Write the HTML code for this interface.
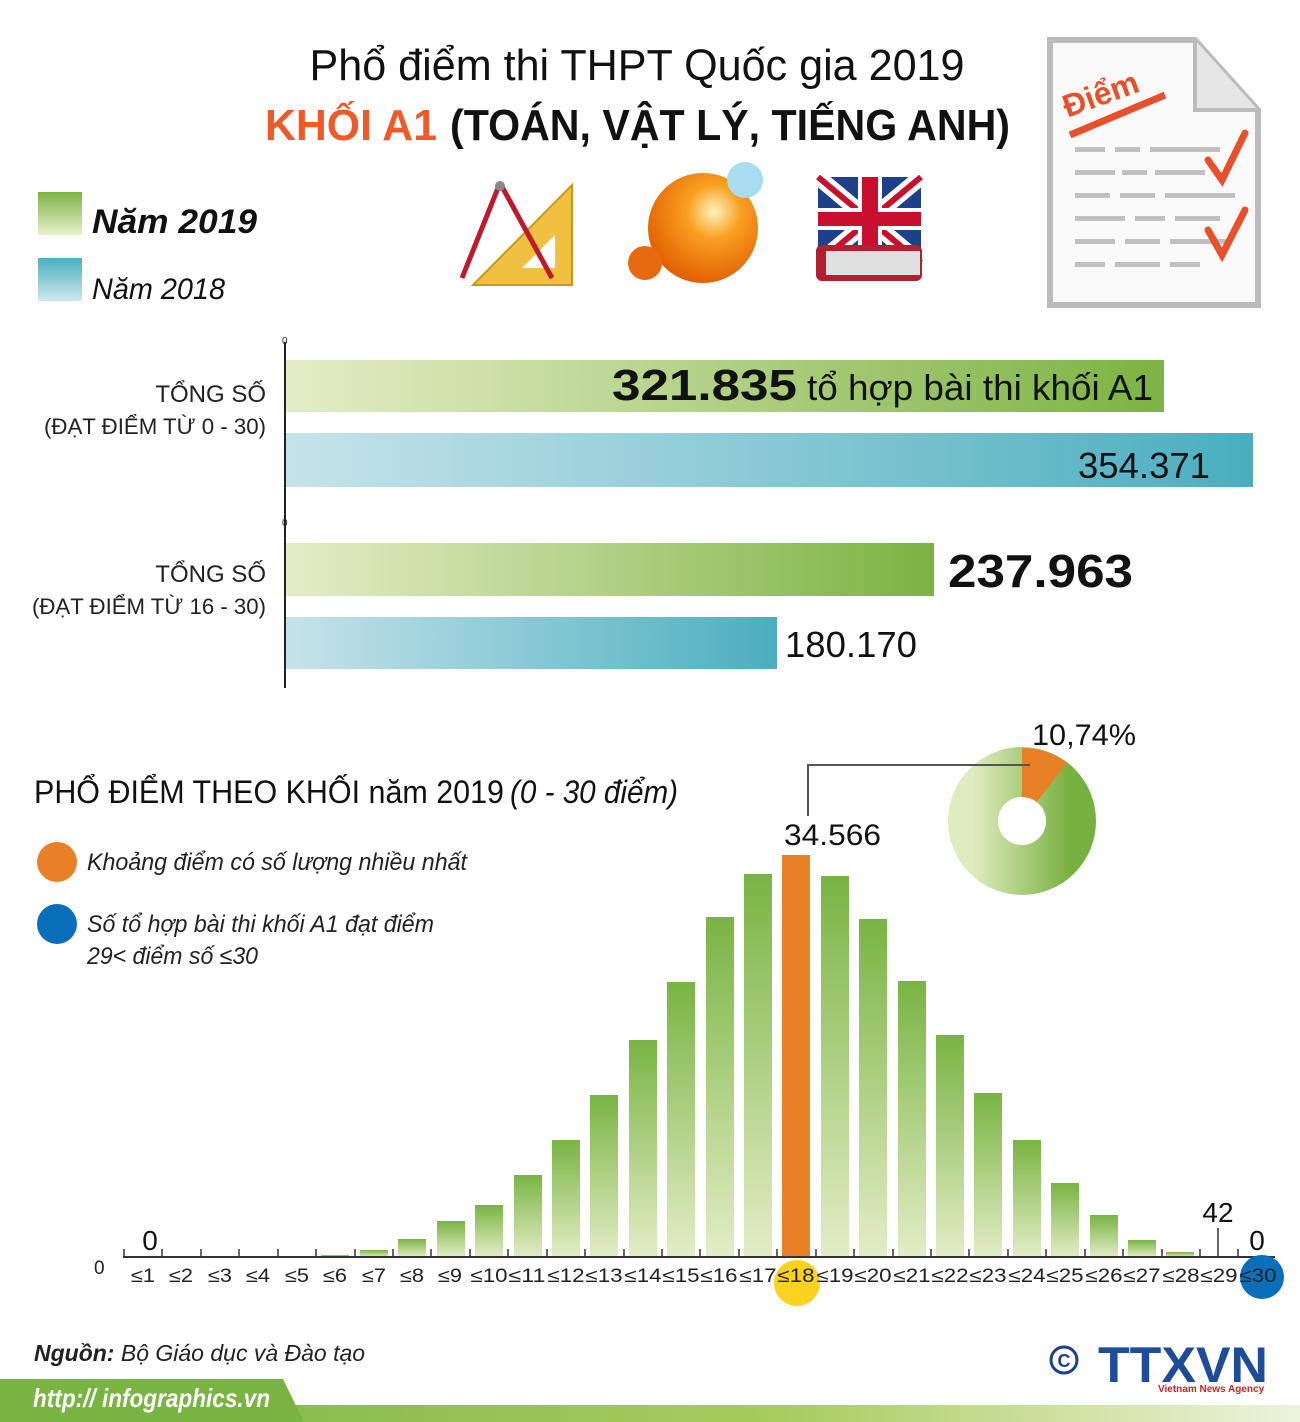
<!DOCTYPE html>
<html><head><meta charset="utf-8"><style>
html,body{margin:0;padding:0;background:#fff}
svg{display:block}
text{font-family:"Liberation Sans Narrow","Liberation Sans",sans-serif}
</style></head><body>
<svg width="1300" height="1422" viewBox="0 0 1300 1422" xmlns="http://www.w3.org/2000/svg">
<defs>
<linearGradient id="g19" x1="0" x2="1" y1="0" y2="0"><stop offset="0" stop-color="#e4edc6"/><stop offset="1" stop-color="#7cb342"/></linearGradient>
<linearGradient id="g18" x1="0" x2="1" y1="0" y2="0"><stop offset="0" stop-color="#c6e3ea"/><stop offset="1" stop-color="#4aaebf"/></linearGradient>
<linearGradient id="lg19" x1="0" x2="0" y1="0" y2="1"><stop offset="0" stop-color="#7cb342"/><stop offset="1" stop-color="#e8f0cc"/></linearGradient>
<linearGradient id="lg18" x1="0" x2="0" y1="0" y2="1"><stop offset="0" stop-color="#4aaebf"/><stop offset="1" stop-color="#cfe8ee"/></linearGradient>
<linearGradient id="vb" x1="0" x2="0" y1="0" y2="1"><stop offset="0" stop-color="#79b443"/><stop offset="1" stop-color="#e3edc6"/></linearGradient>
<linearGradient id="dn" x1="0" x2="1" y1="0" y2="0"><stop offset="0" stop-color="#e0ebc0"/><stop offset="1" stop-color="#76b03e"/></linearGradient>
<linearGradient id="ft" x1="0" x2="1" y1="0" y2="0"><stop offset="0" stop-color="#79b443"/><stop offset="0.6" stop-color="#a8cc5e"/><stop offset="1" stop-color="#eef3dc"/></linearGradient>
<radialGradient id="ball" cx="0.6" cy="0.35" r="0.7"><stop offset="0" stop-color="#fff3c0"/><stop offset="0.35" stop-color="#f9a020"/><stop offset="1" stop-color="#e05a00"/></radialGradient>
</defs>

<text x="637" y="80" font-size="44" text-anchor="middle" fill="#111" textLength="655" lengthAdjust="spacingAndGlyphs">Phổ điểm thi THPT Quốc gia 2019</text>
<text x="265" y="140" font-size="44" font-weight="bold" fill="#f05a28" textLength="172" lengthAdjust="spacingAndGlyphs">KHỐI A1</text>
<text x="450" y="140" font-size="44" font-weight="bold" fill="#111" textLength="560" lengthAdjust="spacingAndGlyphs">(TOÁN, VẬT LÝ, TIẾNG ANH)</text>

<rect x="38" y="192" width="44" height="43" fill="url(#lg19)"/>
<text x="92" y="233" font-size="34" font-weight="bold" font-style="italic" fill="#111" textLength="165" lengthAdjust="spacingAndGlyphs">Năm 2019</text>
<rect x="38" y="258" width="44" height="43" fill="url(#lg18)"/>
<text x="92" y="299" font-size="30" font-style="italic" fill="#111" textLength="133" lengthAdjust="spacingAndGlyphs">Năm 2018</text>

<polygon points="473,285 572,185 572,285" fill="#f0c040" stroke="#c89818" stroke-width="2"/>
<polygon points="522,268 555,235 555,268" fill="#fff"/>
<path d="M500,183 L462,278 M500,183 L552,278" stroke="#c0182c" stroke-width="5" fill="none"/>
<circle cx="500" cy="186" r="5" fill="#888"/>
<circle cx="703" cy="228" r="55" fill="url(#ball)"/>
<circle cx="645" cy="263" r="17" fill="#e86a10"/>
<circle cx="745" cy="180" r="18" fill="#a8dcf0"/>
<rect x="818" y="177" width="103" height="86" fill="#1e3f8a"/>
<path d="M818,177 L921,263 M921,177 L818,263" stroke="#fff" stroke-width="16"/>
<path d="M818,177 L921,263 M921,177 L818,263" stroke="#c8102e" stroke-width="6"/>
<rect x="858" y="177" width="24" height="86" fill="#fff"/><rect x="818" y="208" width="103" height="22" fill="#fff"/>
<rect x="862" y="177" width="16" height="86" fill="#c8102e"/><rect x="818" y="212" width="103" height="14" fill="#c8102e"/>
<rect x="816" y="245" width="106" height="36" rx="6" fill="#b02030"/>
<rect x="826" y="251" width="94" height="24" fill="#e0e0e0"/>
<path d="M1050,40 L1195,40 L1258,110 L1258,305 L1050,305 Z" fill="#fafafa" stroke="#bbb" stroke-width="6"/>
<path d="M1195,40 L1195,110 L1258,110" fill="#e6e6e6" stroke="#bbb" stroke-width="4"/>
<text x="1060" y="105" font-size="32" font-weight="bold" fill="#e8502a" transform="rotate(-20 1100 90)">Điểm</text>
<path d="M1070,135 L1165,95" stroke="#e8502a" stroke-width="7"/>
<g fill="#c0c0c0">
<rect x="1075" y="147" width="30" height="5"/><rect x="1115" y="147" width="25" height="5"/><rect x="1150" y="147" width="70" height="5"/>
<rect x="1075" y="170" width="40" height="5"/><rect x="1122" y="170" width="25" height="5"/><rect x="1155" y="170" width="50" height="5"/>
<rect x="1075" y="193" width="35" height="5"/><rect x="1120" y="193" width="35" height="5"/><rect x="1165" y="193" width="70" height="5"/>
<rect x="1075" y="216" width="50" height="5"/><rect x="1135" y="216" width="30" height="5"/><rect x="1175" y="216" width="45" height="5"/>
<rect x="1075" y="239" width="40" height="5"/><rect x="1125" y="239" width="35" height="5"/><rect x="1170" y="239" width="60" height="5"/>
<rect x="1075" y="262" width="30" height="5"/><rect x="1115" y="262" width="45" height="5"/><rect x="1170" y="262" width="30" height="5"/>
</g>
<path d="M1208,160 L1222,180 L1245,133 M1208,230 L1222,255 L1245,210" stroke="#e8502a" stroke-width="7" fill="none" stroke-linecap="round"/>

<line x1="285" y1="342" x2="285" y2="688" stroke="#222" stroke-width="2"/>
<text x="282" y="344" font-size="10" fill="#222">0</text>
<text x="282" y="526" font-size="10" fill="#222">0</text>
<rect x="286" y="360" width="878" height="52" fill="url(#g19)"/>
<rect x="286" y="433" width="967" height="54" fill="url(#g18)"/>
<rect x="286" y="543" width="648" height="53" fill="url(#g19)"/>
<rect x="286" y="617" width="491" height="52" fill="url(#g18)"/>
<text x="266" y="402" font-size="24" text-anchor="end" fill="#222">TỔNG SỐ</text>
<text x="266" y="434" font-size="22" text-anchor="end" fill="#222" textLength="222" lengthAdjust="spacingAndGlyphs">(ĐẠT ĐIỂM TỪ 0 - 30)</text>
<text x="266" y="582" font-size="24" text-anchor="end" fill="#222">TỔNG SỐ</text>
<text x="266" y="614" font-size="22" text-anchor="end" fill="#222" textLength="234" lengthAdjust="spacingAndGlyphs">(ĐẠT ĐIỂM TỪ 16 - 30)</text>
<text x="612" y="400" font-size="44" font-weight="bold" fill="#111" textLength="185" lengthAdjust="spacingAndGlyphs">321.835</text>
<text x="807" y="400" font-size="36" fill="#111" textLength="346" lengthAdjust="spacingAndGlyphs">tổ hợp bài thi khối A1</text>
<text x="1210" y="478" font-size="36" text-anchor="end" fill="#111" textLength="132" lengthAdjust="spacingAndGlyphs">354.371</text>
<text x="948" y="587" font-size="46" font-weight="bold" fill="#111" textLength="185" lengthAdjust="spacingAndGlyphs">237.963</text>
<text x="785" y="657" font-size="36" fill="#111" textLength="132" lengthAdjust="spacingAndGlyphs">180.170</text>

<text x="34" y="803" font-size="32" fill="#111" textLength="470" lengthAdjust="spacingAndGlyphs">PHỔ ĐIỂM THEO KHỐI năm 2019</text>
<text x="510" y="803" font-size="32" font-style="italic" fill="#111" textLength="168" lengthAdjust="spacingAndGlyphs">(0 - 30 điểm)</text>
<ellipse cx="57" cy="862" rx="20" ry="20" fill="#e88025"/>
<text x="87" y="870" font-size="24" font-style="italic" fill="#222" textLength="380" lengthAdjust="spacingAndGlyphs">Khoảng điểm có số lượng nhiều nhất</text>
<ellipse cx="57" cy="924" rx="20" ry="20" fill="#0a6fba"/>
<text x="87" y="932" font-size="24" font-style="italic" fill="#222" textLength="347" lengthAdjust="spacingAndGlyphs">Số tổ hợp bài thi khối A1 đạt điểm</text>
<text x="87" y="964" font-size="24" font-style="italic" fill="#222" textLength="171" lengthAdjust="spacingAndGlyphs">29&lt; điểm số ≤30</text>

<circle cx="1022" cy="821" r="49" fill="none" stroke="url(#dn)" stroke-width="50"/>
<path d="M1022,748 A73,73 0 0 1 1066.7,763.3 L1036.7,802 A24,24 0 0 0 1022,797 Z" fill="#e88025"/>
<text x="1032" y="745" font-size="30" fill="#111" textLength="104" lengthAdjust="spacingAndGlyphs">10,74%</text>
<polyline points="808,816 808,765 1030,765" fill="none" stroke="#555" stroke-width="2"/>
<text x="784" y="845" font-size="30" fill="#111" textLength="97" lengthAdjust="spacingAndGlyphs">34.566</text>

<g>
<rect x="321" y="1255" width="28" height="2" fill="url(#vb)"/>
<rect x="360" y="1250" width="28" height="7" fill="url(#vb)"/>
<rect x="398" y="1239" width="28" height="18" fill="url(#vb)"/>
<rect x="437" y="1221" width="28" height="36" fill="url(#vb)"/>
<rect x="475" y="1205" width="28" height="52" fill="url(#vb)"/>
<rect x="514" y="1175" width="28" height="82" fill="url(#vb)"/>
<rect x="552" y="1140" width="28" height="117" fill="url(#vb)"/>
<rect x="590" y="1095" width="28" height="162" fill="url(#vb)"/>
<rect x="629" y="1040" width="28" height="217" fill="url(#vb)"/>
<rect x="667" y="982" width="28" height="275" fill="url(#vb)"/>
<rect x="706" y="917" width="28" height="340" fill="url(#vb)"/>
<rect x="744" y="874" width="28" height="383" fill="url(#vb)"/>
<rect x="782" y="855" width="28" height="402" fill="#e88025"/>
<rect x="821" y="876" width="28" height="381" fill="url(#vb)"/>
<rect x="859" y="919" width="28" height="338" fill="url(#vb)"/>
<rect x="898" y="981" width="28" height="276" fill="url(#vb)"/>
<rect x="936" y="1035" width="28" height="222" fill="url(#vb)"/>
<rect x="974" y="1093" width="28" height="164" fill="url(#vb)"/>
<rect x="1013" y="1140" width="28" height="117" fill="url(#vb)"/>
<rect x="1051" y="1183" width="28" height="74" fill="url(#vb)"/>
<rect x="1090" y="1215" width="28" height="42" fill="url(#vb)"/>
<rect x="1128" y="1240" width="28" height="17" fill="url(#vb)"/>
<rect x="1166" y="1252" width="28" height="5" fill="url(#vb)"/>
</g>
<line x1="123" y1="1257" x2="1275" y2="1257" stroke="#333" stroke-width="2"/>
<g stroke="#333" stroke-width="1.5">
<line x1="124" y1="1249" x2="124" y2="1257"/><line x1="162" y1="1249" x2="162" y2="1257"/><line x1="201" y1="1249" x2="201" y2="1257"/><line x1="239" y1="1249" x2="239" y2="1257"/><line x1="278" y1="1249" x2="278" y2="1257"/><line x1="316" y1="1249" x2="316" y2="1257"/><line x1="355" y1="1249" x2="355" y2="1257"/><line x1="393" y1="1249" x2="393" y2="1257"/><line x1="431" y1="1249" x2="431" y2="1257"/><line x1="470" y1="1249" x2="470" y2="1257"/><line x1="508" y1="1249" x2="508" y2="1257"/><line x1="547" y1="1249" x2="547" y2="1257"/><line x1="585" y1="1249" x2="585" y2="1257"/><line x1="624" y1="1249" x2="624" y2="1257"/><line x1="662" y1="1249" x2="662" y2="1257"/><line x1="700" y1="1249" x2="700" y2="1257"/><line x1="739" y1="1249" x2="739" y2="1257"/><line x1="777" y1="1249" x2="777" y2="1257"/><line x1="816" y1="1249" x2="816" y2="1257"/><line x1="854" y1="1249" x2="854" y2="1257"/><line x1="893" y1="1249" x2="893" y2="1257"/><line x1="931" y1="1249" x2="931" y2="1257"/><line x1="969" y1="1249" x2="969" y2="1257"/><line x1="1008" y1="1249" x2="1008" y2="1257"/><line x1="1046" y1="1249" x2="1046" y2="1257"/><line x1="1085" y1="1249" x2="1085" y2="1257"/><line x1="1123" y1="1249" x2="1123" y2="1257"/><line x1="1162" y1="1249" x2="1162" y2="1257"/><line x1="1200" y1="1249" x2="1200" y2="1257"/><line x1="1238" y1="1249" x2="1238" y2="1257"/>
<line x1="1218" y1="1228" x2="1218" y2="1257"/>
</g>
<circle cx="797" cy="1283" r="23" fill="#fcd21f"/>
<circle cx="1262" cy="1277" r="22" fill="#0a6fba"/>
<text x="94" y="1274" font-size="19" fill="#222">0</text>
<text x="150" y="1250" font-size="28" text-anchor="middle" fill="#111">0</text>
<text x="1218" y="1222" font-size="28" text-anchor="middle" fill="#111">42</text>
<text x="1257" y="1250" font-size="28" text-anchor="middle" fill="#111">0</text>
<g font-size="19" fill="#222" text-anchor="middle">
<text x="143" y="1282" textLength="24" lengthAdjust="spacingAndGlyphs">≤1</text>
<text x="181" y="1282" textLength="24" lengthAdjust="spacingAndGlyphs">≤2</text>
<text x="220" y="1282" textLength="24" lengthAdjust="spacingAndGlyphs">≤3</text>
<text x="258" y="1282" textLength="24" lengthAdjust="spacingAndGlyphs">≤4</text>
<text x="297" y="1282" textLength="24" lengthAdjust="spacingAndGlyphs">≤5</text>
<text x="335" y="1282" textLength="24" lengthAdjust="spacingAndGlyphs">≤6</text>
<text x="374" y="1282" textLength="24" lengthAdjust="spacingAndGlyphs">≤7</text>
<text x="412" y="1282" textLength="24" lengthAdjust="spacingAndGlyphs">≤8</text>
<text x="450" y="1282" textLength="24" lengthAdjust="spacingAndGlyphs">≤9</text>
<text x="489" y="1282" textLength="37" lengthAdjust="spacingAndGlyphs">≤10</text>
<text x="527" y="1282" textLength="37" lengthAdjust="spacingAndGlyphs">≤11</text>
<text x="566" y="1282" textLength="37" lengthAdjust="spacingAndGlyphs">≤12</text>
<text x="604" y="1282" textLength="37" lengthAdjust="spacingAndGlyphs">≤13</text>
<text x="643" y="1282" textLength="37" lengthAdjust="spacingAndGlyphs">≤14</text>
<text x="681" y="1282" textLength="37" lengthAdjust="spacingAndGlyphs">≤15</text>
<text x="719" y="1282" textLength="37" lengthAdjust="spacingAndGlyphs">≤16</text>
<text x="758" y="1282" textLength="37" lengthAdjust="spacingAndGlyphs">≤17</text>
<text x="796" y="1282" textLength="37" lengthAdjust="spacingAndGlyphs">≤18</text>
<text x="835" y="1282" textLength="37" lengthAdjust="spacingAndGlyphs">≤19</text>
<text x="873" y="1282" textLength="37" lengthAdjust="spacingAndGlyphs">≤20</text>
<text x="912" y="1282" textLength="37" lengthAdjust="spacingAndGlyphs">≤21</text>
<text x="950" y="1282" textLength="37" lengthAdjust="spacingAndGlyphs">≤22</text>
<text x="988" y="1282" textLength="37" lengthAdjust="spacingAndGlyphs">≤23</text>
<text x="1027" y="1282" textLength="37" lengthAdjust="spacingAndGlyphs">≤24</text>
<text x="1065" y="1282" textLength="37" lengthAdjust="spacingAndGlyphs">≤25</text>
<text x="1104" y="1282" textLength="37" lengthAdjust="spacingAndGlyphs">≤26</text>
<text x="1142" y="1282" textLength="37" lengthAdjust="spacingAndGlyphs">≤27</text>
<text x="1181" y="1282" textLength="37" lengthAdjust="spacingAndGlyphs">≤28</text>
<text x="1219" y="1282" textLength="37" lengthAdjust="spacingAndGlyphs">≤29</text>
<text x="1258" y="1282" textLength="37" lengthAdjust="spacingAndGlyphs">≤30</text>
</g>

<text x="34" y="1361" font-size="23" fill="#222"><tspan font-weight="bold" font-style="italic">Nguồn:</tspan><tspan font-style="italic"> Bộ Giáo dục và Đào tạo</tspan></text>
<rect x="0" y="1405" width="1300" height="17" fill="url(#ft)"/>
<polygon points="0,1379 283,1379 304,1422 0,1422" fill="#79b443"/>
<text x="33" y="1407" font-size="26" font-weight="bold" font-style="italic" fill="#fff" textLength="237" lengthAdjust="spacingAndGlyphs">http:// infographics.vn</text>
<circle cx="1064" cy="1360" r="13" fill="none" stroke="#1e3f8a" stroke-width="3"/>
<text x="1064" y="1367" font-size="18" font-weight="bold" text-anchor="middle" fill="#1e3f8a">C</text>
<text x="1098" y="1382" font-size="50" font-weight="bold" fill="#1e4c9a" textLength="170" lengthAdjust="spacingAndGlyphs">TTXVN</text>
<text x="1158" y="1392" font-size="10" font-weight="bold" fill="#d02020">Vietnam News Agency</text>
</svg>
</body></html>
